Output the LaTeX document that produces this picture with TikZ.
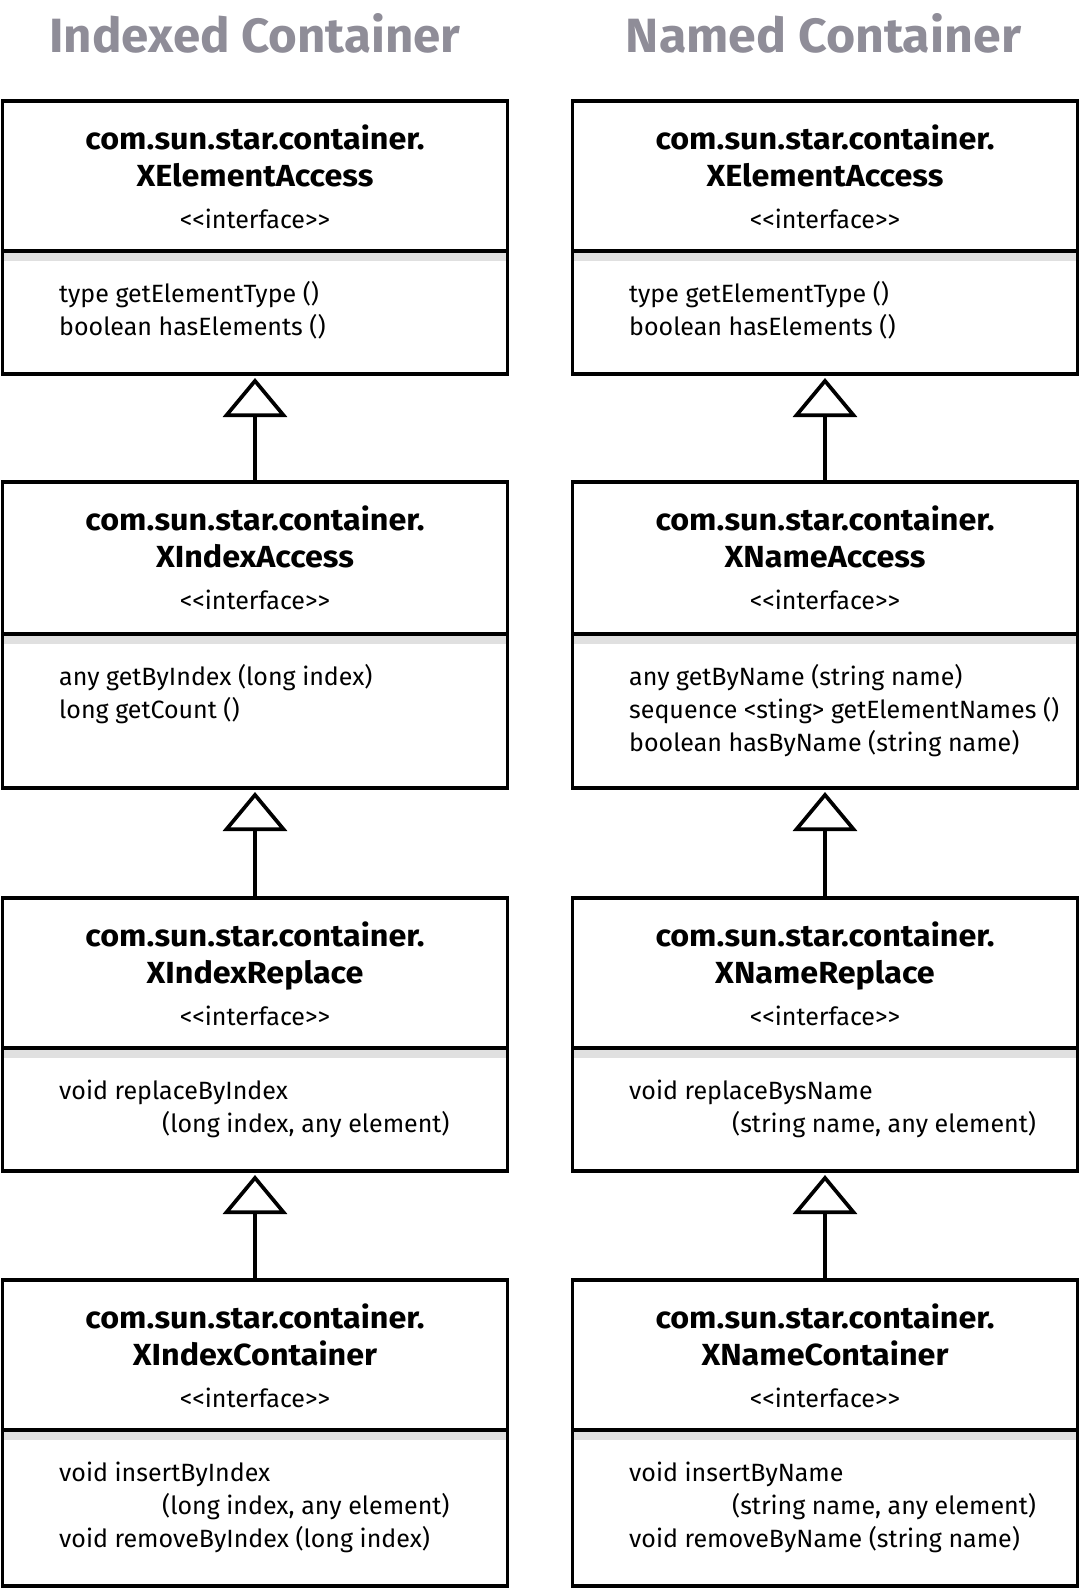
\documentclass[tikz,border=0pt]{standalone}
\usepackage{fontspec}
\setmainfont{Fira Sans}
\usepackage{graphicx}
\usetikzlibrary{arrows.meta}
\definecolor{titlegray}{RGB}{143,141,152}
\definecolor{bandgray}{RGB}{224,224,224}
\newcommand\hwide[1]{\scalebox{1.06}[1]{#1}}
\newcommand\umlbox[6]{%
  % #1 name, #2 centre x, #3 top, #4 separator, #5 bottom, #6 class name
  \node[frame, minimum height={#5-#3}, anchor=north] (#1) at (#2,#3) {};
  \fill[bandgray] (#2-250.65,#4) rectangle (#2+250.65,#4+10);
  \draw[sepline] (#2-252.5,#4) -- (#2+252.5,#4);
  \node[hdr] (#1-pk) at (#2,#3+48) {\hwide{com.sun.star.container.}};
  \node[hdr] (#1-nm) at (#2,#3+85) {\hwide{#6}};
  \node[ster] (#1-st) at (#2,#3+127) {<\kern0pt<interface>\kern0pt>};
}
\begin{document}
\begin{tikzpicture}[x=1pt,y=-1pt,
  frame/.style={draw, line width=3.7pt, minimum width=505pt, inner sep=0pt, outer sep=0pt},
  sepline/.style={line width=3.7pt},
  hdr/.style={anchor=base, font=\fontsize{30.5}{30.5}\selectfont\bfseries, inner sep=0pt},
  ster/.style={anchor=base, font=\fontsize{25}{25}\selectfont, inner sep=0pt},
  meth/.style={anchor=base west, font=\fontsize{25}{25}\selectfont, inner sep=0pt},
  ttl/.style={anchor=base, text=titlegray, inner sep=0pt, font=\bfseries},
  inh/.style={line width=3.7pt, -{Triangle[open, length=39pt, width=64pt, fill=white]}}
]
\useasboundingbox (0,0) rectangle (1079,1588);

\node[ttl] (t1) at (255,52) {\resizebox{411pt}{39pt}{Indexed Container}};
\node[ttl] (t2) at (823.5,52) {\resizebox{395pt}{39pt}{Named Container}};

% left column
\umlbox{a1}{255}{101}{251}{374}{XElementAccess}
\node[meth] (a1-m1) at (59,302) {type getElementType ()};
\node[meth] (a1-m2) at (59,335) {boolean hasElements ()};

\umlbox{a2}{255}{482}{634}{788}{XIndexAccess}
\node[meth] (a2-m1) at (59,685) {any getByIndex (long index)};
\node[meth] (a2-m2) at (59,718) {long getCount ()};

\umlbox{a3}{255}{898}{1048}{1171}{XIndexReplace}
\node[meth] (a3-m1) at (59,1099) {void replaceByIndex};
\node[meth] (a3-m2) at (162,1132) {(long index, any element)};

\umlbox{a4}{255}{1280}{1430}{1586}{XIndexContainer}
\node[meth] (a4-m1) at (59,1481) {void insertByIndex};
\node[meth] (a4-m2) at (162,1514) {(long index, any element)};
\node[meth] (a4-m3) at (59,1547) {void removeByIndex (long index)};

% right column
\umlbox{b1}{825}{101}{251}{374}{XElementAccess}
\node[meth] (b1-m1) at (629,302) {type getElementType ()};
\node[meth] (b1-m2) at (629,335) {boolean hasElements ()};

\umlbox{b2}{825}{482}{634}{788}{XNameAccess}
\node[meth] (b2-m1) at (629,685) {any getByName (string name)};
\node[meth] (b2-m2) at (629,718) {sequence <sting> getElementNames ()};
\node[meth] (b2-m3) at (629,751) {boolean hasByName (string name)};

\umlbox{b3}{825}{898}{1048}{1171}{XNameReplace}
\node[meth] (b3-m1) at (629,1099) {void replaceBysName};
\node[meth] (b3-m2) at (732,1132) {(string name, any element)};

\umlbox{b4}{825}{1280}{1430}{1586}{XNameContainer}
\node[meth] (b4-m1) at (629,1481) {void insertByName};
\node[meth] (b4-m2) at (732,1514) {(string name, any element)};
\node[meth] (b4-m3) at (629,1547) {void removeByName (string name)};

% generalisation arrows
\draw[inh] (a2.north) -- ([yshift=-4pt]a1.south);
\draw[inh] (a3.north) -- ([yshift=-4pt]a2.south);
\draw[inh] (a4.north) -- ([yshift=-4pt]a3.south);
\draw[inh] (b2.north) -- ([yshift=-4pt]b1.south);
\draw[inh] (b3.north) -- ([yshift=-4pt]b2.south);
\draw[inh] (b4.north) -- ([yshift=-4pt]b3.south);
\end{tikzpicture}
\end{document}
